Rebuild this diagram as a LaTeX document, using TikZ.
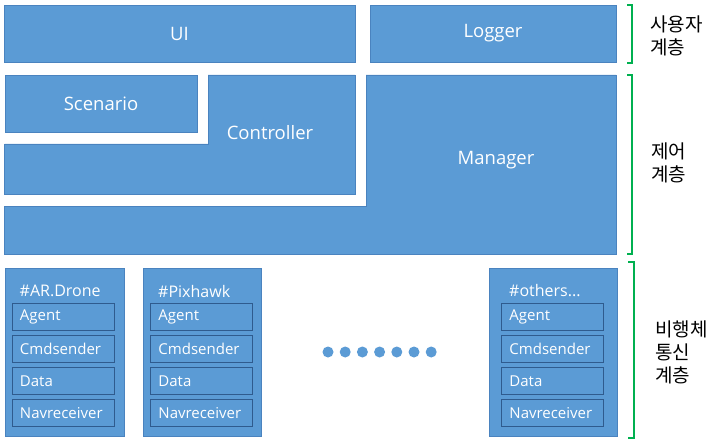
\documentclass[tikz,border=0pt]{standalone}
\usepackage{fontspec}
\setmainfont{Open Sans}
\newfontfamily\kor{Noto Sans CJK KR}
\usepackage{tikz}

\definecolor{boxblue}{HTML}{5B9BD5}
\definecolor{boxedge}{HTML}{4A83BF}
\definecolor{inedge}{HTML}{2F5B8E}
\definecolor{layergreen}{HTML}{00B050}

\begin{document}
\begin{tikzpicture}[x=1pt,y=-1pt]
\tikzstyle{block}=[fill=boxblue,draw=boxedge,line width=0.6pt,text=white,font=\fontsize{18.5}{22}\selectfont,inner sep=0pt]
\tikzstyle{inbox}=[draw=inedge,line width=0.9pt,text=white,font=\fontsize{15}{18}\selectfont,anchor=north west,minimum height=27pt,text width=86pt,inner xsep=8pt,inner ysep=0pt,align=left]
\tikzstyle{bracket}=[draw=layergreen,line width=1.6pt]
\tikzstyle{layer}=[font=\kor\fontsize{19}{23}\selectfont,anchor=west,align=left,inner sep=0pt]
\useasboundingbox (0,0) rectangle (724,444);
\fill[white] (0,0) rectangle (724,444);
% user layer
\node[block,minimum width=351pt,minimum height=57pt] (ui) at (179.5,33.5) {UI};
\node[block,minimum width=246pt,minimum height=57pt] (logger) at (493,33.5) {Logger};
% control layer
\node[block,minimum width=192pt,minimum height=57pt] (scenario) at (101,103.5) {Scenario};
\filldraw[block] (208,75) -- (355,75) -- (355,194) -- (4.5,194) -- (4.5,144) -- (208,144) -- cycle;
\node[text=white,font=\fontsize{18.5}{22}\selectfont] (controller) at (270,133) {Controller};
\filldraw[block] (366,75) -- (616,75) -- (616,254) -- (4.5,254) -- (4.5,206) -- (366,206) -- cycle;
\node[text=white,font=\fontsize{18.5}{22}\selectfont] (manager) at (496,160) {Manager};
% vehicle layer
\foreach \name/\x/\w/\d/\title in {
	ardrone/4.5/119.5/7/{\#AR.Drone},
	pixhawk/143/118/7/{\#Pixhawk},
	others/489/128/12/{\#others...}}
{
	\node[block,anchor=north west,minimum width=\w pt,minimum height=168pt] (\name) at (\x,268) {};
	\node[text=white,font=\fontsize{16}{19}\selectfont,anchor=west,inner sep=0pt] (\name-title) at (\x+\d+8,291) {\title};
	\foreach \k/\y/\lab in {1/303/Agent,2/335/Cmdsender,3/367/Data,4/399/Navreceiver}
		\node[inbox] (\name-\k) at (\x+\d,\y) {\lab};
}
\foreach \i in {0,...,6}
	\fill[boxblue] (328+17.2*\i,352) circle (5.5);
% layer brackets
\draw[bracket] (627,5) -- (632,5) -- (632,63) -- (627,63);
\draw[bracket] (627,75) -- (632,75) -- (632,254) -- (627,254);
\draw[bracket] (628,262) -- (634,262) -- (634,438) -- (628,438);
\node[layer] (userlayer) at (650,36) {사용자\\계층};
\node[layer] (ctrllayer) at (651,162.5) {제어\\계층};
\node[layer] (commlayer) at (655,352) {비행체\\통신\\계층};
\end{tikzpicture}
\end{document}
